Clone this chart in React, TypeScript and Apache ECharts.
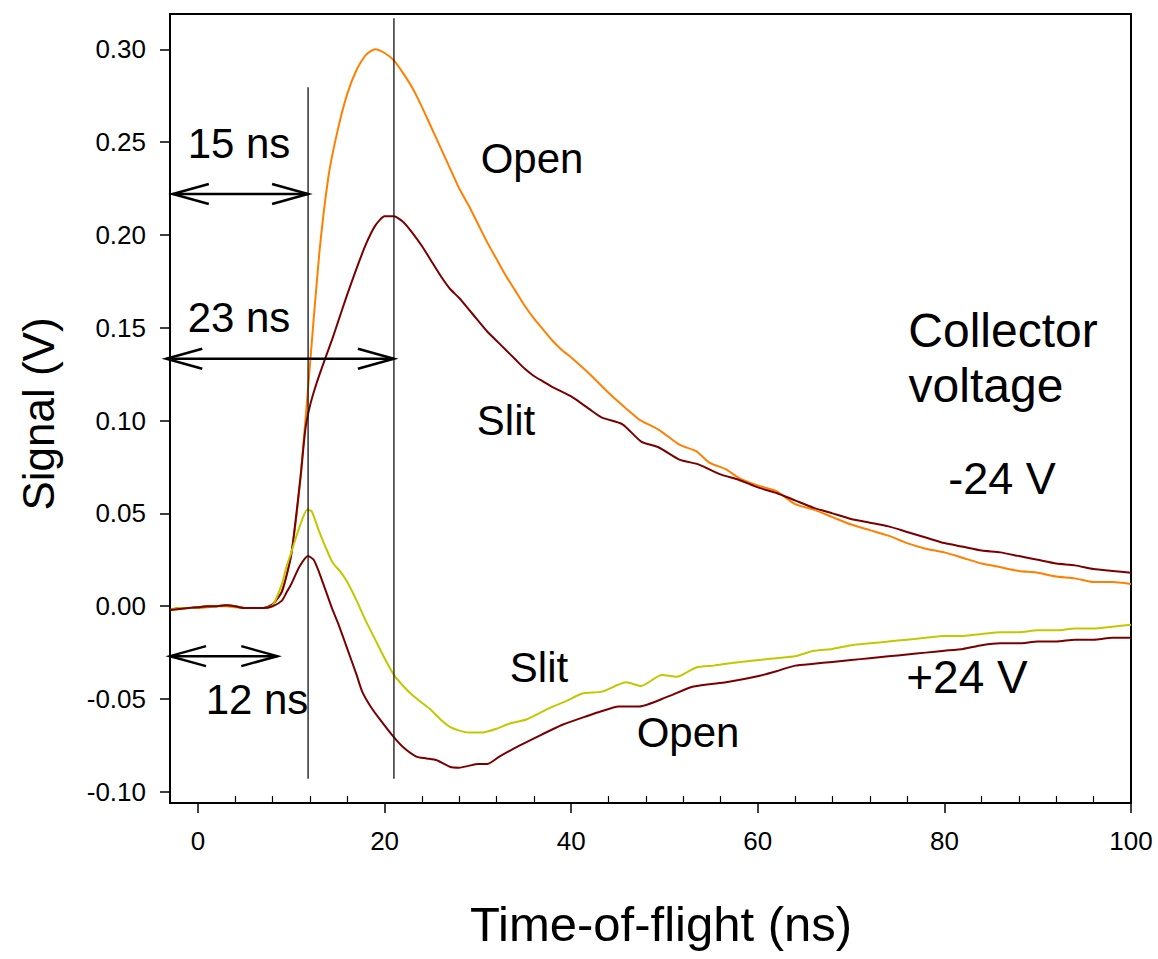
import React, { useEffect, useRef } from "react";
import * as echarts from "echarts";

// ---- Data ----
// Collector voltage -24 V, "Open" (orange)
const openNeg: [number, number][] = [
  [-3, -0.002], [-2, -0.0015], [-1, -0.001], [0, -0.001], [1, -0.0005], [2, 0.0], [3, 0.0], [4, -0.0005], [5, -0.001], [6, -0.001], [7, -0.001],
  [8, 0.001], [9, 0.008], [10, 0.028], [11, 0.07], [12, 0.13], [13, 0.19], [14, 0.232], [15, 0.257], [16, 0.276],
  [17, 0.289], [18, 0.297], [19, 0.3], [20, 0.298], [21, 0.294], [22, 0.287], [23, 0.279], [24, 0.269], [25, 0.258],
  [26, 0.247], [27, 0.236], [28, 0.225], [29, 0.216], [30, 0.206], [31, 0.196], [32, 0.187], [33, 0.178], [34, 0.17],
  [35, 0.162], [36, 0.155], [37, 0.149], [38, 0.143], [39, 0.138], [40, 0.134], [42, 0.125], [44, 0.115], [46, 0.106],
  [47.3, 0.1005], [49.4, 0.095], [51.6, 0.087], [53.4, 0.0835], [54.8, 0.0774], [56.6, 0.0737], [58, 0.069], [60, 0.065],
  [62, 0.062], [64, 0.055], [66, 0.052], [68, 0.048], [70, 0.044], [72, 0.041], [74, 0.038], [76, 0.034], [78, 0.031],
  [80, 0.029], [82, 0.026], [84, 0.023], [86, 0.021], [88, 0.019], [90, 0.018], [92, 0.016], [94, 0.015], [96, 0.013],
  [98, 0.013], [100, 0.012],
];
// Collector voltage -24 V, "Slit" (dark red)
const slitNeg: [number, number][] = [
  [-3, -0.002], [-2, -0.001], [-1, -0.001], [0, -0.0005], [1, 0.0], [2, 0.0], [3, 0.0005], [4, 0.0], [5, -0.001], [6, -0.001], [7, -0.001],
  [8, 0.001], [9, 0.008], [10, 0.028], [11, 0.07], [11.5, 0.095], [12, 0.108], [12.7, 0.12], [13.6, 0.133], [14.4, 0.144],
  [15, 0.153], [16, 0.168], [17, 0.182], [18, 0.195], [19, 0.205], [20, 0.21], [21, 0.21], [22, 0.207], [23, 0.201],
  [24, 0.194], [25, 0.186], [26, 0.178], [27, 0.171], [28, 0.166], [29, 0.16], [30, 0.154], [31, 0.148], [32, 0.143],
  [33, 0.138], [34, 0.133], [35, 0.128], [36, 0.124], [37, 0.121], [38, 0.118], [40, 0.113], [42, 0.106], [43.3, 0.1016],
  [45.5, 0.098], [47.5, 0.0887], [49.4, 0.0855], [51.6, 0.079], [53.7, 0.0763], [56, 0.071], [58, 0.068], [60, 0.064],
  [62, 0.061], [64, 0.057], [66, 0.053], [68, 0.05], [70, 0.047], [72, 0.045], [74, 0.043], [76, 0.04], [78, 0.037],
  [80, 0.034], [82, 0.032], [84, 0.03], [86, 0.029], [88, 0.027], [90, 0.025], [92, 0.023], [94, 0.022], [96, 0.02],
  [98, 0.019], [100, 0.018],
];
// Collector voltage +24 V, "Slit" (yellow-green)
const slitPos: [number, number][] = [
  [-3, -0.002], [-2, -0.001], [-1, -0.001], [0, -0.0005], [1, 0.0], [2, 0.0], [3, 0.0005], [4, 0.0], [5, -0.001], [6, -0.001], [7, -0.001],
  [8, 0.0005], [9, 0.012], [9.5, 0.0215], [10, 0.029], [10.9, 0.043], [11.7, 0.052], [12.2, 0.051], [13, 0.04],
  [14, 0.028], [14.5, 0.023], [15.2, 0.019], [16, 0.013], [17, 0.003], [18, -0.008], [19, -0.018], [20, -0.028],
  [21, -0.037], [22, -0.043], [23, -0.048], [24, -0.052], [25, -0.056], [26, -0.061], [27, -0.065], [28, -0.067],
  [29, -0.068], [30.5, -0.068], [32, -0.066], [33.5, -0.063], [35.2, -0.061], [37.6, -0.055], [39.5, -0.051],
  [41.2, -0.047], [43.3, -0.046], [45.9, -0.041], [47.5, -0.043], [49.7, -0.037], [51.3, -0.038], [53.4, -0.033],
  [55.3, -0.032], [57.2, -0.0306], [60.1, -0.029], [62, -0.028], [64, -0.027], [66, -0.024], [68, -0.023], [70, -0.021],
  [72, -0.02], [74, -0.019], [76, -0.018], [78, -0.017], [80, -0.016], [82, -0.016], [84, -0.015], [86, -0.014],
  [88, -0.014], [90, -0.013], [92, -0.013], [94, -0.012], [96, -0.012], [98, -0.011], [100, -0.01],
];
// Collector voltage +24 V, "Open" (dark red)
const openPos: [number, number][] = [
  [-3, -0.002], [-2, -0.0015], [-1, -0.001], [0, -0.0005], [1, 0.0], [2, 0.0], [3, 0.0005], [4, 0.0], [5, -0.001], [6, -0.001], [7, -0.001],
  [8, 0.0], [9, 0.003], [9.5, 0.0075], [10, 0.012], [10.9, 0.0215], [11.8, 0.027], [12.4, 0.025], [13, 0.018],
  [14, 0.004], [14.4, -0.0016], [15, -0.009], [15.9, -0.0215], [17, -0.037], [17.6, -0.046], [18.5, -0.054],
  [19.5, -0.061], [20.9, -0.07], [22, -0.076], [23.4, -0.081], [24.5, -0.082], [25.6, -0.083], [27, -0.0865],
  [28, -0.087], [29, -0.086], [30, -0.085], [31, -0.085], [32.3, -0.081], [34.5, -0.075], [36.9, -0.069],
  [39, -0.064], [41.2, -0.06], [43, -0.057], [45.1, -0.054], [47.3, -0.054], [50.2, -0.049], [52.9, -0.0435],
  [54.8, -0.042], [56.6, -0.041], [60.1, -0.0376], [62, -0.035], [64, -0.032], [66, -0.031], [68, -0.03], [70, -0.029],
  [72, -0.028], [74, -0.027], [76, -0.026], [78, -0.025], [80, -0.024], [82, -0.023], [84, -0.021], [86, -0.02],
  [88, -0.02], [90, -0.019], [92, -0.019], [94, -0.018], [96, -0.018], [98, -0.017], [100, -0.017],
];

// Annotation markers: vertical lines [x, yTop, yBottom]
const markerLines: [number, number, number][] = [
  [11.8, 0.2796, -0.093],
  [21.0, 0.3167, -0.093],
];
// Double-headed arrows [xStart, xEnd, y]
const arrows: [number, number, number][] = [
  [-2.7, 11.8, 0.222],
  [-3.4, 21.0, 0.1333],
  [-3.0, 8.5, -0.0269],
];

const xMajorTicks = [0, 20, 40, 60, 80, 100];
const xMinorTicks = [4, 8, 12, 16, 24, 28, 32, 36, 44, 48, 52, 56, 64, 68, 72, 76, 84, 88, 92, 96];
const yTicks = [-0.1, -0.05, 0, 0.05, 0.1, 0.15, 0.2, 0.25, 0.3];

const X_MIN = -3;
const X_MAX = 100;
const Y_MIN = -0.106;
const Y_MAX = 0.319;

const FONT = "'Liberation Sans', Arial, Helvetica, sans-serif";

export default function App() {
  const ref = useRef<HTMLDivElement>(null);

  useEffect(() => {
    if (!ref.current) return;
    const chart = echarts.init(ref.current, undefined, { renderer: "svg" });

    const text = (t: string, x: number, y: number, size: number, extra: any = {}) => ({
      type: "text",
      x,
      y,
      z: 100,
      ...extra,
      style: {
        text: t,
        fontSize: size,
        fontFamily: FONT,
        fill: "#000",
        textAlign: "center",
        textVerticalAlign: "middle",
      },
    });

    const curve = (name: string, data: [number, number][], color: string) => ({
      type: "line",
      name,
      data,
      xAxisIndex: 0,
      yAxisIndex: 0,
      symbol: "none",
      smooth: 0.2,
      lineStyle: { color, width: 2 },
      z: 5,
    });

    const option: any = {
      animation: false,
      backgroundColor: "#fff",
      grid: {
        left: 170,
        right: 27,
        top: 14,
        bottom: 156,
        show: true,
        borderColor: "#000",
        borderWidth: 2,
        backgroundColor: "transparent",
      },
      xAxis: [
        {
          type: "value",
          min: X_MIN,
          max: X_MAX,
          position: "bottom",
          axisLine: { show: true, onZero: false, lineStyle: { color: "#000", width: 2 } },
          axisTick: { show: true, length: 10, customValues: xMajorTicks, lineStyle: { color: "#000", width: 1.5 } },
          axisLabel: {
            customValues: xMajorTicks,
            margin: 25,
            fontSize: 26,
            fontFamily: FONT,
            color: "#000",
          },
          splitLine: { show: false },
        },
        {
          type: "value",
          min: X_MIN,
          max: X_MAX,
          position: "bottom",
          axisLine: { show: false, onZero: false },
          axisTick: { show: true, inside: true, length: 7, customValues: xMinorTicks, lineStyle: { color: "#000", width: 1.2 } },
          axisLabel: { show: false },
          splitLine: { show: false },
        },
      ],
      yAxis: {
        type: "value",
        min: Y_MIN,
        max: Y_MAX,
        axisLine: { show: true, onZero: false, lineStyle: { color: "#000", width: 2 } },
        axisTick: { show: true, length: 10, customValues: yTicks, lineStyle: { color: "#000", width: 1.5 } },
        axisLabel: {
          customValues: yTicks,
          margin: 24,
          fontSize: 26,
          fontFamily: FONT,
          color: "#000",
          formatter: (v: number) => v.toFixed(2),
        },
        splitLine: { show: false },
      },
      series: [
        curve("Open (-24 V)", openNeg, "#FF8000"),
        curve("Slit (-24 V)", slitNeg, "#7A0000"),
        curve("Slit (+24 V)", slitPos, "#C2C800"),
        curve("Open (+24 V)", openPos, "#7A0000"),
        ...markerLines.map((m, i) => ({
          type: "line",
          name: "marker" + i,
          data: [
            [m[0], m[1]],
            [m[0], m[2]],
          ],
          symbol: "none",
          lineStyle: { color: "#111", width: 1.3 },
          z: 6,
        })),
        {
          type: "custom",
          name: "arrows",
          data: arrows,
          encode: { x: [0, 1], y: 2 },
          clip: false,
          z: 10,
          renderItem: (_params: any, api: any) => {
            const x0 = api.value(0);
            const x1 = api.value(1);
            const y = api.value(2);
            const p0 = api.coord([x0, y]);
            const p1 = api.coord([x1, y]);
            const hl = 36;
            const hh = 10;
            const st = { stroke: "#000", lineWidth: 2.5, fill: null };
            return {
              type: "group",
              children: [
                { type: "line", shape: { x1: p0[0], y1: p0[1], x2: p1[0], y2: p1[1] }, style: st },
                {
                  type: "polyline",
                  shape: { points: [[p0[0] + hl, p0[1] - hh], [p0[0], p0[1]], [p0[0] + hl, p0[1] + hh]] },
                  style: st,
                },
                {
                  type: "polyline",
                  shape: { points: [[p1[0] - hl, p1[1] - hh], [p1[0], p1[1]], [p1[0] - hl, p1[1] + hh]] },
                  style: st,
                },
              ],
            };
          },
        },
      ],
      graphic: [
        text("Signal (V)", 38, 414, 44, { rotation: Math.PI / 2 }),
        text("Time-of-flight (ns)", 661, 924, 49),
        text("15 ns", 239, 143, 42),
        text("23 ns", 239, 317, 42),
        text("12 ns", 257, 699, 42),
        text("Open", 532, 158, 42),
        text("Slit", 506, 420, 42),
        text("Slit", 539, 667, 42),
        text("Open", 688, 732, 42),
        text("Collector", 1003, 330, 48),
        text("voltage", 986, 385, 48),
        text("-24 V", 1002, 478, 45),
        text("+24 V", 967, 677, 46),
      ],
    };

    chart.setOption(option);
    return () => chart.dispose();
  }, []);

  return (
    <div
      ref={ref}
      style={{ position: "fixed", left: 0, top: 0, width: 1158, height: 959, background: "#fff" }}
    />
  );
}
